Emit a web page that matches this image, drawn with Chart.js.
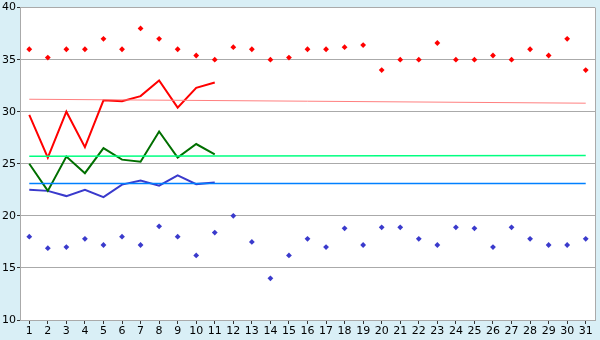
<!DOCTYPE html>
<html>
<head>
<meta charset="utf-8">
<script src="https://cdn.jsdelivr.net/npm/chart.js@4"></script>
<style>
  html, body { margin: 0; padding: 0; background: #d9eff6; }
  #wrap { width: 600px; height: 340px; }
</style>
</head>
<body>
<div id="wrap"><canvas id="chart" width="600" height="340"></canvas></div>
<script>
const days = [];
for (let d = 1; d <= 31; d++) days.push(String(d));

const yTicks = [10, 15, 20, 25, 30, 35, 40];

const highDots = [36, 35.2, 36, 36, 37, 36, 38, 37, 36, 35.4, 35, 36.2, 36, 35, 35.2, 36,
    36, 36.2, 36.4, 34, 35, 35, 36.6, 35, 35, 35.4, 35, 36, 35.4, 37, 34];
const lowDots = [18, 16.9, 17, 17.8, 17.2, 18, 17.2, 19, 18, 16.2, 18.4, 20, 17.5, 14, 16.2, 17.8,
    17, 18.8, 17.2, 18.9, 18.9, 17.8, 17.2, 18.9, 18.8, 17, 18.9, 17.8, 17.2, 17.2, 17.8];

const redLine = [29.7, 25.6, 30, 26.6, 31.1, 31, 31.5, 33, 30.4, 32.3, 32.8];
const greenLine = [25, 22.4, 25.7, 24.1, 26.5, 25.4, 25.2, 28.1, 25.6, 26.9, 25.9];
const blueLine = [22.5, 22.4, 21.9, 22.5, 21.8, 23, 23.4, 22.9, 23.9, 23.05, 23.2];

// reference lines: value at day 1 and day 31
const pinkRef = [31.2, 30.82];
const springRef = [25.72, 25.8];
const skyRef = [23.1, 23.1];

function refSeries(ends) {
    let arr = new Array(days.length).fill(null);
    arr[0] = ends[0];
    arr[days.length - 1] = ends[1];
    return arr;
}

const areaPlugin = {
    id: "area",
    beforeDraw(chart) {
        let ctx = chart.ctx;
        let a = chart.chartArea;
        ctx.save();
        ctx.fillStyle = "#ffffff";
        ctx.fillRect(a.left, a.top, a.right - a.left, a.bottom - a.top);
        ctx.restore();
    },
    afterDraw(chart) {
        let ctx = chart.ctx;
        let a = chart.chartArea;
        ctx.save();
        ctx.strokeStyle = "#aaaaaa";
        ctx.lineWidth = 1;
        ctx.beginPath();
        ctx.moveTo(Math.round(a.right) + 0.5, a.top);
        ctx.lineTo(Math.round(a.right) + 0.5, a.bottom);
        ctx.stroke();
        ctx.restore();
    }
};

function lineSet(data, color, width) {
    return {
        data: data,
        borderColor: color,
        backgroundColor: color,
        borderWidth: width,
        pointRadius: 0,
        tension: 0,
        spanGaps: true
    };
}

function dotSet(data, color) {
    return {
        data: data,
        showLine: false,
        borderColor: color,
        backgroundColor: color,
        pointStyle: "rectRot",
        pointRadius: 2.9,
        borderWidth: 0
    };
}

new Chart(document.getElementById("chart"), {
    type: "line",
    data: {
        labels: days,
        datasets: [
            lineSet(refSeries(pinkRef), "#ff8080", 1),
            lineSet(refSeries(springRef), "#00ff80", 1.5),
            lineSet(refSeries(skyRef), "#0080ff", 1.5),
            lineSet(redLine, "#ff0000", 2),
            lineSet(greenLine, "#006f00", 2),
            lineSet(blueLine, "#3a3acc", 2),
            dotSet(highDots, "#ff0000"),
            dotSet(lowDots, "#3a3acc")
        ]
    },
    options: {
        responsive: false,
        animation: false,
        layout: { padding: { top: 5, right: 5, left: 0, bottom: 0 } },
        plugins: {
            legend: { display: false },
            tooltip: { enabled: false }
        },
        scales: {
            x: {
                type: "category",
                offset: true,
                grid: {
                    offset: false,
                    drawOnChartArea: false,
                    tickLength: 4,
                    color: "#333333"
                },
                border: { color: "#aaaaaa" },
                ticks: {
                    color: "#000000",
                    padding: 1,
                    maxRotation: 0,
                    autoSkip: false,
                    font: { family: "DejaVu Sans", size: 11 }
                },
                afterFit(axis) { axis.height = 20; }
            },
            y: {
                min: 10,
                max: 40,
                afterBuildTicks(axis) {
                    axis.ticks = yTicks.map(v => ({ value: v }));
                },
                grid: {
                    color: "#aaaaaa",
                    tickLength: 3,
                    tickColor: "#333333"
                },
                border: { color: "#aaaaaa" },
                ticks: {
                    color: "#000000",
                    padding: 1,
                    font: { family: "DejaVu Sans", size: 11 }
                },
                afterFit(axis) { axis.width = 20; }
            }
        }
    },
    plugins: [areaPlugin]
});
</script>
</body>
</html>
